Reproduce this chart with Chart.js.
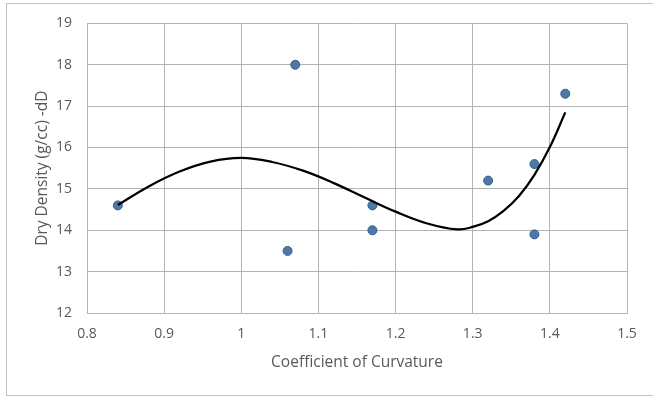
<!DOCTYPE html>
<html>
<head>
<meta charset="utf-8">
<script src="https://cdn.jsdelivr.net/npm/chart.js@4/dist/chart.umd.min.js"></script>
<style>
  body { margin: 0; background: #fff; overflow: hidden; }
  #wrap { position: relative; width: 653px; height: 396px; }
  #frame { position: absolute; left: 6px; top: 3px; width: 680px; height: 391px; border: 1px solid #c0c0c0; }
  #chart { position: absolute; left: 0; top: 0; }
</style>
</head>
<body>
<div id="wrap">
  <div id="frame"></div>
  <canvas id="chart" width="653" height="396"></canvas>
</div>
<script>
// Measured samples
const coeffCurvature = [0.84, 1.06, 1.07, 1.17, 1.17, 1.32, 1.38, 1.38, 1.42];
const dryDensity = [14.6, 13.5, 18.0, 14.6, 14.0, 15.2, 15.6, 13.9, 17.3];

// Trendline (poly, order 3)
const trendX = [0.84, 0.88, 0.92, 0.96, 1.0, 1.04, 1.08, 1.12, 1.16, 1.2, 1.24, 1.28, 1.3, 1.32, 1.34, 1.36, 1.38, 1.4, 1.42];
const trendY = [14.61, 15.06, 15.42, 15.66, 15.75, 15.65, 15.44, 15.14, 14.79, 14.45, 14.17, 14.02, 14.08, 14.22, 14.47, 14.83, 15.34, 16.01, 16.85];

const xRange = [0.8, 1.5];
const yRange = [12, 19];

const tickFont = { family: "'Open Sans', sans-serif", size: 14 };
const titleFont = { family: "'Open Sans', sans-serif", size: 15.5 };
const textColor = '#595959';
const gridColor = '#b3b3b3';

document.addEventListener('DOMContentLoaded', function() {
    const ctx = document.getElementById('chart').getContext('2d');
    new Chart(ctx, {
        type: 'scatter',
        data: {
            datasets: [
                {
                    label: 'Trend',
                    type: 'line',
                    data: trendX.map((x, i) => ({ x: x, y: trendY[i] })),
                    borderColor: '#000',
                    borderWidth: 2.25,
                    pointRadius: 0,
                    fill: false,
                    tension: 0.4,
                    order: 0
                },
                {
                    label: 'Dry Density',
                    data: coeffCurvature.map((x, i) => ({ x: x, y: dryDensity[i] })),
                    backgroundColor: '#4d79a6',
                    borderColor: '#385d8a',
                    borderWidth: 1,
                    pointRadius: 4.5,
                    order: 1
                }
            ]
        },
        options: {
            responsive: false,
            animation: false,
            layout: { padding: { left: 0, right: 26, top: 23, bottom: 0 } },
            plugins: {
                legend: { display: false },
                tooltip: { enabled: false }
            },
            scales: {
                x: {
                    type: 'linear',
                    min: xRange[0],
                    max: xRange[1],
                    afterFit: function(scale) { scale.height = 83; },
                    ticks: {
                        stepSize: 0.1,
                        padding: 13,
                        color: textColor,
                        font: tickFont,
                        maxRotation: 0,
                        callback: v => String(+v.toFixed(1))
                    },
                    grid: { color: gridColor, drawTicks: false },
                    border: { color: gridColor },
                    title: {
                        display: true,
                        text: 'Coefficient of Curvature',
                        color: textColor,
                        font: titleFont,
                        padding: { top: 0, bottom: 24 }
                    }
                },
                y: {
                    min: yRange[0],
                    max: yRange[1],
                    afterFit: function(scale) { scale.width = 87; },
                    ticks: {
                        stepSize: 1,
                        padding: 15,
                        color: textColor,
                        font: tickFont
                    },
                    grid: { color: gridColor, drawTicks: false },
                    border: { color: gridColor },
                    title: {
                        display: true,
                        text: 'Dry Density (g/cc) -dD',
                        color: textColor,
                        font: titleFont,
                        padding: { top: 33, bottom: 0 }
                    }
                }
            }
        }
    });
});
</script>
</body>
</html>
